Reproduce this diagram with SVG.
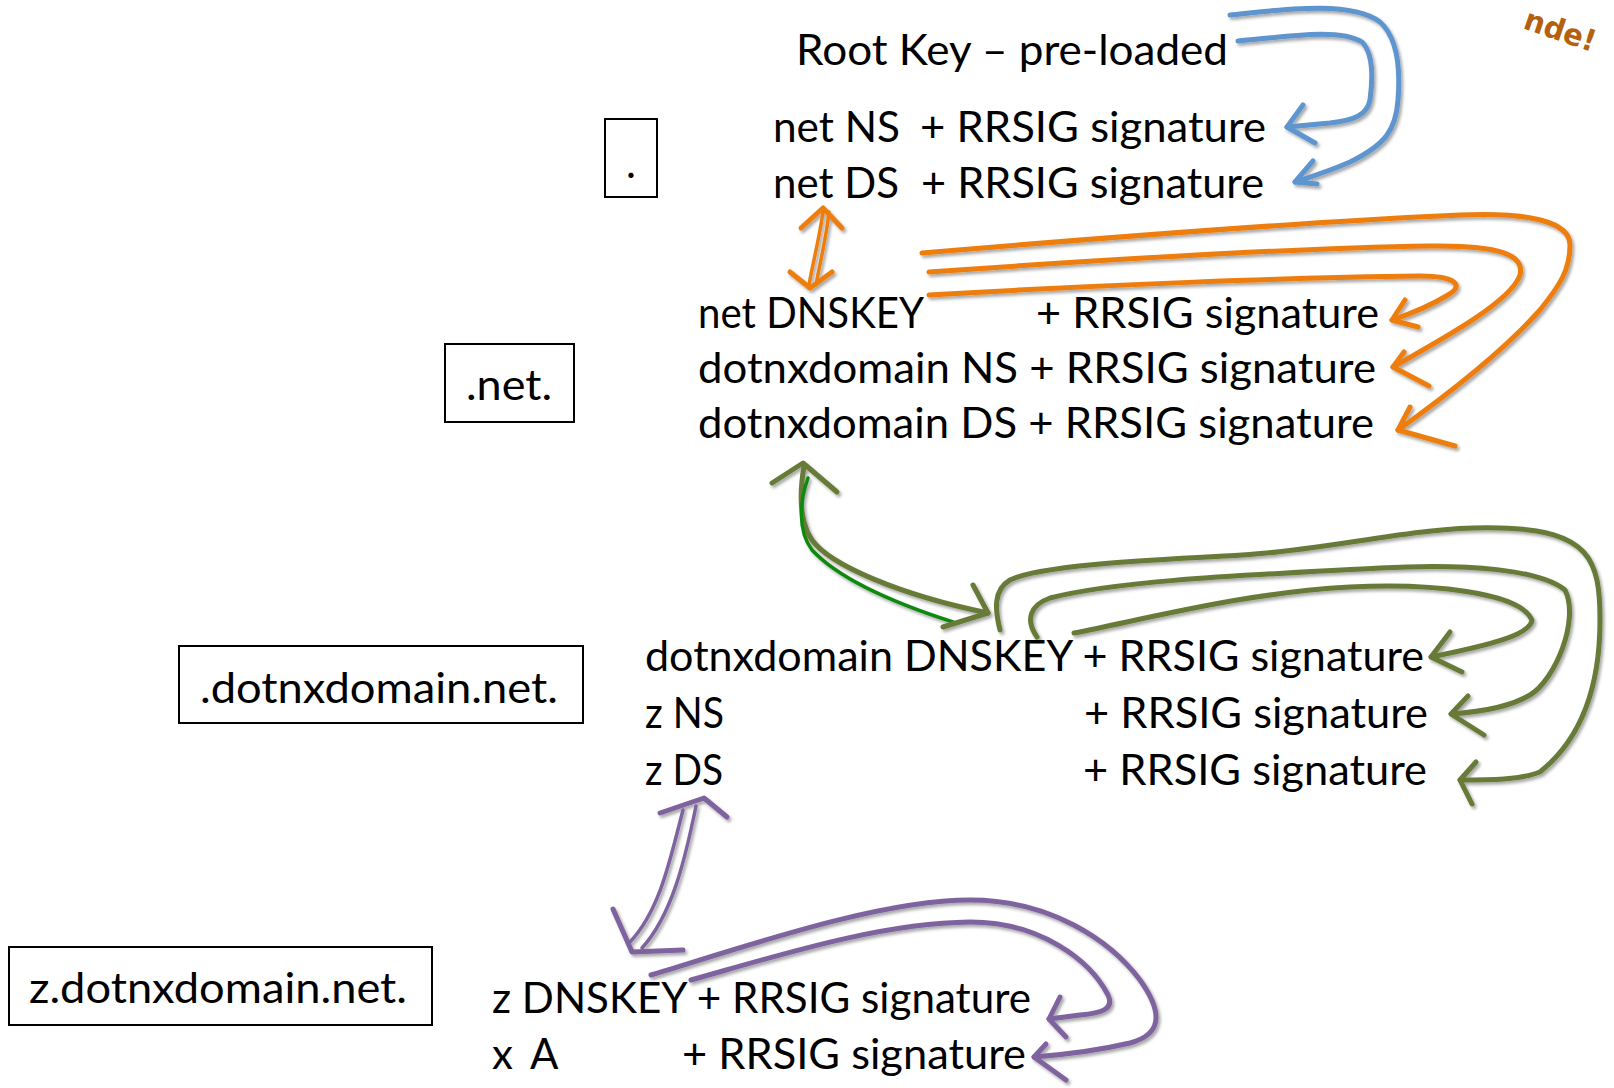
<svg xmlns="http://www.w3.org/2000/svg" width="1614" height="1088" viewBox="0 0 1614 1088">
<style>
  text { font-family: Lato, "Open Sans", "Liberation Sans", sans-serif; font-size: 42px; fill: #000; }
  .box { fill: #fff; stroke: #000; stroke-width: 2; }
  .ln { fill: none; stroke-linecap: round; stroke-linejoin: round; stroke-width: 5; }
  .blue { stroke: #5E95CF; }
  .orange { stroke: #ED7D0E; }
  .olive { stroke: #687A37; }
  .green { stroke: #118A11; }
  .purple { stroke: #7E649E; }
  .thin { stroke-width: 3.5; }
  .note { font-family: "DejaVu Sans", sans-serif; font-size: 30px; font-weight: bold; fill: #B4600C; }
</style>
<defs>
  <filter id="sh" filterUnits="userSpaceOnUse" x="0" y="0" width="1614" height="1088">
    <feDropShadow dx="2" dy="2.5" stdDeviation="1.5" flood-color="#000" flood-opacity="0.35"/>
  </filter>
</defs>
<rect width="1614" height="1088" fill="#fff"/>

<g id="node-root">
  <rect class="box" x="605" y="119" width="52" height="78"/>
  <text x="631" y="178" text-anchor="middle">.</text>
</g>
<g id="node-net">
  <rect class="box" x="445" y="344" width="129" height="78"/>
  <text x="466" y="400" textLength="86" lengthAdjust="spacingAndGlyphs">.net.</text>
</g>
<g id="node-dotnxdomain">
  <rect class="box" x="179" y="646" width="404" height="77"/>
  <text x="200" y="703" textLength="358" lengthAdjust="spacingAndGlyphs">.dotnxdomain.net.</text>
</g>
<g id="node-z">
  <rect class="box" x="9" y="947" width="423" height="78"/>
  <text x="29" y="1003" textLength="378" lengthAdjust="spacingAndGlyphs">z.dotnxdomain.net.</text>
</g>

<g id="records-root">
  <text x="796" y="65" textLength="432" lengthAdjust="spacingAndGlyphs">Root Key – pre-loaded</text>
  <text x="773" y="142" textLength="127" lengthAdjust="spacingAndGlyphs">net NS</text>
  <text x="920" y="142" textLength="346" lengthAdjust="spacingAndGlyphs">+ RRSIG signature</text>
  <text x="773" y="198" textLength="126" lengthAdjust="spacingAndGlyphs">net DS</text>
  <text x="921" y="198" textLength="343" lengthAdjust="spacingAndGlyphs">+ RRSIG signature</text>
</g>
<g id="records-net">
  <text x="698" y="328" textLength="226" lengthAdjust="spacingAndGlyphs">net DNSKEY</text>
  <text x="1036" y="328" textLength="343" lengthAdjust="spacingAndGlyphs">+ RRSIG signature</text>
  <text x="698" y="383" textLength="678" lengthAdjust="spacingAndGlyphs">dotnxdomain NS + RRSIG signature</text>
  <text x="698" y="438" textLength="676" lengthAdjust="spacingAndGlyphs">dotnxdomain DS + RRSIG signature</text>
</g>
<g id="records-dotnxdomain">
  <text x="645" y="671" textLength="779" lengthAdjust="spacingAndGlyphs">dotnxdomain DNSKEY + RRSIG signature</text>
  <text x="645" y="728" textLength="79" lengthAdjust="spacingAndGlyphs">z NS</text>
  <text x="1084" y="728" textLength="344" lengthAdjust="spacingAndGlyphs">+ RRSIG signature</text>
  <text x="645" y="785" textLength="78" lengthAdjust="spacingAndGlyphs">z DS</text>
  <text x="1083" y="785" textLength="344" lengthAdjust="spacingAndGlyphs">+ RRSIG signature</text>
</g>
<g id="records-z">
  <text x="492" y="1013" textLength="539" lengthAdjust="spacingAndGlyphs">z DNSKEY + RRSIG signature</text>
  <text x="492" y="1069">x</text>
  <text x="530" y="1069">A</text>
  <text x="682" y="1069" textLength="344" lengthAdjust="spacingAndGlyphs">+ RRSIG signature</text>
</g>

<g id="connectors" filter="url(#sh)">
  <!-- blue -->
  <path class="ln blue" d="M1230,15 C1280,10 1350,0 1380,22 C1400,40 1400,75 1398,100 C1396,130 1385,145 1350,162 C1330,171 1310,177 1295,182"/>
  <path class="ln blue" d="M1313,161 L1295,182 L1317,184"/>
  <path class="ln blue" d="M1238,41 C1290,36 1340,28 1362,42 C1375,55 1372,85 1370,100 C1367,115 1355,120 1330,123 L1287,127"/>
  <path class="ln blue" d="M1303,105 L1287,127 L1315,143"/>
  <!-- orange -->
  <path class="ln orange thin" d="M823,212 C819,240 813,262 809,285"/>
  <path class="ln orange thin" d="M829,212 C826,240 820,262 816,285"/>
  <path class="ln orange" d="M801,228 L823,208 L842,228"/>
  <path class="ln orange" d="M790,272 L810,288 L832,272"/>
  <path class="ln orange" d="M922,253 C1100,238 1300,222 1460,215 C1530,212 1570,222 1570,245 C1570,270 1560,285 1540,310 C1500,355 1440,400 1398,430"/>
  <path class="ln orange" d="M1410,407 L1398,430 L1455,446"/>
  <path class="ln orange" d="M929,272 C1100,260 1300,248 1430,246 C1500,245 1525,255 1520,275 C1512,300 1450,335 1393,367"/>
  <path class="ln orange" d="M1404,352 L1393,367 L1429,386"/>
  <path class="ln orange" d="M929,295 C1100,285 1300,277 1420,276 C1455,276 1465,285 1448,295 C1430,306 1410,314 1392,320"/>
  <path class="ln orange" d="M1405,300 L1392,320 L1418,327"/>
  <!-- green -->
  <path class="ln olive" d="M804,466 C800,490 798,520 812,540 C830,565 900,595 988,613"/>
  <path class="ln green thin" d="M808,478 C800,500 797,530 812,550 C840,580 900,605 953,622"/>
  <path class="ln olive" d="M772,483 L803,463 L837,492"/>
  <path class="ln olive" d="M973,585 L988,613 L943,627"/>
  <path class="ln olive" d="M1000,630 C995,610 993,590 1010,580 C1040,565 1150,560 1242,555 C1330,550 1420,525 1500,528 C1590,530 1600,560 1600,620 C1600,690 1580,740 1540,772 C1520,780 1490,780 1460,780"/>
  <path class="ln olive" d="M1476,762 L1460,780 L1472,804"/>
  <path class="ln olive" d="M1037,637 C1025,620 1030,605 1050,598 C1120,580 1250,575 1380,568 C1470,563 1540,570 1565,590 C1580,620 1555,680 1530,695 C1510,707 1480,712 1451,714"/>
  <path class="ln olive" d="M1468,696 L1451,714 L1484,735"/>
  <path class="ln olive" d="M1074,633 C1150,618 1250,592 1350,587 C1430,583 1520,592 1532,620 C1530,635 1490,645 1431,657"/>
  <path class="ln olive" d="M1450,632 L1431,657 L1462,672"/>
  <!-- purple -->
  <path class="ln purple thin" d="M683,810 C670,860 660,910 630,942"/>
  <path class="ln purple thin" d="M696,806 C685,860 672,915 642,948"/>
  <path class="ln purple" d="M660,813 L704,798 L727,817"/>
  <path class="ln purple" d="M613,909 L632,952 L683,950"/>
  <path class="ln purple" d="M651,975 C750,945 880,900 970,900 C1050,900 1110,940 1140,980 C1165,1015 1160,1035 1130,1043 C1100,1050 1060,1055 1034,1057"/>
  <path class="ln purple" d="M1046,1044 L1034,1057 L1066,1080"/>
  <path class="ln purple" d="M691,980 C780,955 880,923 970,922 C1040,922 1090,960 1108,995 C1115,1010 1100,1013 1080,1015 L1049,1019"/>
  <path class="ln purple" d="M1060,997 L1049,1019 L1066,1037"/>
</g>

<text class="note" transform="translate(1522,28) rotate(19)" textLength="74" lengthAdjust="spacingAndGlyphs">nde!</text>
</svg>
